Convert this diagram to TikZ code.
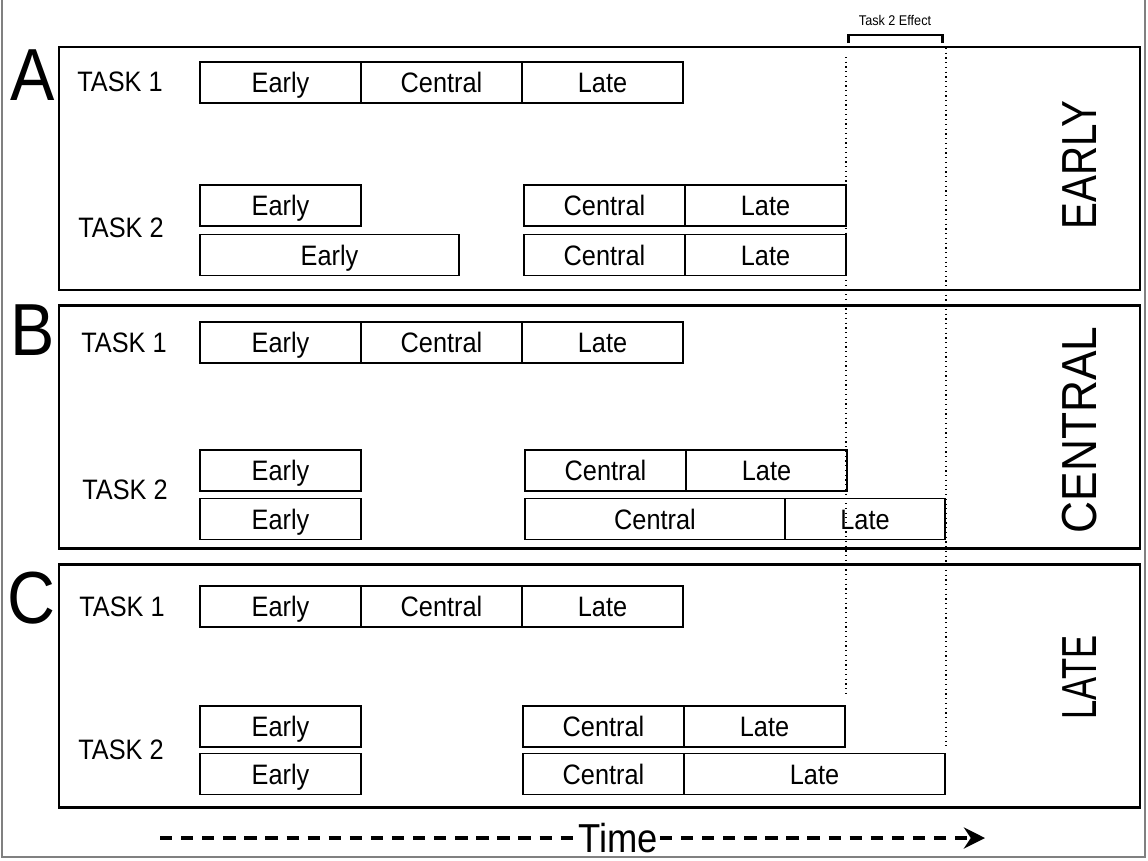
\documentclass[tikz,border=0pt]{standalone}
\usepackage{fontspec}
\setmainfont{Liberation Sans}[FakeStretch=0.9]
\usetikzlibrary{positioning,arrows.meta}
\begin{document}
\begin{tikzpicture}[
        phase/.style={draw, line width=0.8pt, minimum width=3.22cm, minimum height=0.82cm, inner sep=0pt, outer sep=0pt, text height=12pt, text depth=0.5pt, font=\fontsize{16}{18}\selectfont},
        panel/.style={draw, line width=1.3pt, minimum width=21.62cm, minimum height=4.86cm, inner sep=0pt},
        tasklbl/.style={font=\fontsize{16}{18}\selectfont},
        letterlbl/.style={anchor=base, font=\fontsize{42}{44}\selectfont},
        locuslbl/.style={rotate=90, font=\fontsize{28}{30}\selectfont},
        guide/.style={dotted, line width=0.7pt}
    ]
            \useasboundingbox (0,0) rectangle (22.96,-17.2);
            \draw[gray, line width=1.2pt] (0.04,0) -- (0.04,-17.14) -- (22.9,-17.14) -- (22.9,0);

            \node[panel] (pA) at (11.99,-3.37) {};
            \node[panel] (pB) at (11.99,-8.54) {};
            \node[panel] (pC) at (11.99,-13.72) {};

            \node[letterlbl] (A) at (0.65,-2.0) {A};
            \node[letterlbl] (B) at (0.66,-7.1) {B};
            \node[letterlbl] (C) at (0.62,-12.46) {C};

            \node[locuslbl] (lA) at (21.6,-3.3) {\scalebox{0.91}[1]{EARLY}};
            \node[locuslbl] (lB) at (21.6,-8.6) {CENTRAL};
            \node[locuslbl] (lC) at (21.6,-13.55) {\scalebox{0.78}[1]{LATE}};

            \node[tasklbl] (tA1) at (2.4,-1.64) {TASK 1};
            \node[tasklbl] (tA2) at (2.42,-4.56) {TASK 2};
            \node[tasklbl] (tB1) at (2.48,-6.86) {TASK 1};
            \node[tasklbl] (tB2) at (2.5,-9.8) {TASK 2};
            \node[tasklbl] (tC1) at (2.44,-12.14) {TASK 1};
            \node[tasklbl] (tC2) at (2.42,-15.0) {TASK 2};

            % A
            \node[phase, anchor=west] (a1e) at (4.0,-1.65) {Early};
            \node[phase, right=0pt of a1e] (a1c) {Central};
            \node[phase, right=0pt of a1c] (a1l) {Late};
            \node[phase, anchor=west] (a2e) at (4.0,-4.11) {Early};
            \node[phase, anchor=west] (a2c) at (10.48,-4.11) {Central};
            \node[phase, right=0pt of a2c] (a2l) {Late};
            \node[phase, anchor=west, minimum width=5.18cm] (a3e) at (4.0,-5.1) {Early};
            \node[phase, anchor=west] (a3c) at (10.48,-5.1) {Central};
            \node[phase, right=0pt of a3c] (a3l) {Late};

            % B
            \node[phase, anchor=west] (b1e) at (4.0,-6.85) {Early};
            \node[phase, right=0pt of b1e] (b1c) {Central};
            \node[phase, right=0pt of b1c] (b1l) {Late};
            \node[phase, anchor=west] (b2e) at (4.0,-9.41) {Early};
            \node[phase, anchor=west] (b2c) at (10.5,-9.41) {Central};
            \node[phase, right=0pt of b2c] (b2l) {Late};
            \node[phase, anchor=west] (b3e) at (4.0,-10.38) {Early};
            \node[phase, anchor=west, minimum width=5.2cm] (b3c) at (10.5,-10.38) {Central};
            \node[phase, right=0pt of b3c, minimum width=3.2cm] (b3l) {Late};

            % C
            \node[phase, anchor=west] (c1e) at (4.0,-12.13) {Early};
            \node[phase, right=0pt of c1e] (c1c) {Central};
            \node[phase, right=0pt of c1c] (c1l) {Late};
            \node[phase, anchor=west] (c2e) at (4.0,-14.53) {Early};
            \node[phase, anchor=west] (c2c) at (10.46,-14.53) {Central};
            \node[phase, right=0pt of c2c] (c2l) {Late};
            \node[phase, anchor=west] (c3e) at (4.0,-15.48) {Early};
            \node[phase, anchor=west] (c3c) at (10.46,-15.48) {Central};
            \node[phase, right=0pt of c3c, minimum width=5.22cm] (c3l) {Late};

            \coordinate (g1t) at (16.92,-1.14);
            \coordinate (g1b) at (16.92,-13.94);
            \coordinate (g2t) at (18.92,-0.96);
            \coordinate (g2b) at (18.92,-14.92);
            \draw[guide] (g1t) -- (g1b);
            \draw[guide] (g2t) -- (g2b);

            \node[font=\fontsize{8}{9}\selectfont] (eff) at (17.9,-0.4) {Task 2 Effect};
            \draw[line width=1.7pt] (16.96,-0.86) -- (16.96,-0.7) -- (18.84,-0.7) -- (18.84,-0.86);

            \node[font=\fontsize{23}{25}\selectfont, inner sep=1pt] (time) at (12.36,-16.76) {Time};
            \coordinate (t0) at (3.2,-16.76);
            \coordinate (t1) at (19.7,-16.76);
            \draw[line width=2.4pt, dash pattern=on 7pt off 5pt] (t0) -- (time.west);
            \draw[line width=2.4pt, dash pattern=on 7pt off 5pt, -{Stealth[length=12pt, width=12pt]}] (time.east) -- (t1);
        \end{tikzpicture}
\end{document}
